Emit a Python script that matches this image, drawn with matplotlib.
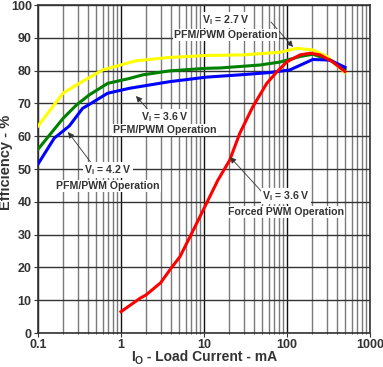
import matplotlib
matplotlib.use("Agg")
import matplotlib.pyplot as plt
from matplotlib.ticker import FixedLocator, NullFormatter

plt.rcParams['font.family'] = ['Liberation Sans', 'DejaVu Sans']

# V_I = 2.7 V PFM/PWM
x_27 = [0.1, 0.2, 0.29, 0.6, 1.52, 3.8, 10.6, 30, 82, 132, 205, 302, 500]
y_27 = [63.1, 73.1, 75.6, 80.2, 83.0, 84.0, 84.6, 84.8, 85.6, 86.8, 86.3, 84.3, 79.4]

# V_I = 3.6 V PFM/PWM
x_36 = [0.1, 0.2, 0.29, 0.415, 0.69, 1.26, 1.83, 3.8, 10.6, 15.6, 47, 82, 144, 205, 330, 500]
y_36 = [56.0, 65.4, 69.5, 72.6, 76.1, 77.6, 78.7, 79.9, 80.7, 80.8, 81.7, 82.6, 84.3, 85.0, 83.2, 80.4]

# V_I = 4.2 V PFM/PWM
x_42 = [0.1, 0.157, 0.238, 0.345, 0.435, 0.69, 1.26, 3.8, 10.6, 27, 62, 108, 132, 205, 330, 500]
y_42 = [51.5, 59.4, 63.1, 68.5, 70.0, 73.1, 74.6, 76.6, 78.0, 78.7, 79.4, 80.2, 81.2, 83.4, 83.2, 81.0]

# V_I = 3.6 V Forced PWM
x_pwm = [1, 1.7, 2, 3, 4, 5.14, 6.8, 8.95, 14.7, 20.4, 27, 38.8, 57, 76, 100, 144, 190, 250, 354, 500]
y_pwm = [6.5, 10.6, 11.6, 15.3, 19.7, 23.3, 29.4, 35.5, 46.6, 52.7, 60.9, 69.0, 76.1, 79.7, 82.7, 84.8, 85.3, 84.8, 82.7, 79.7]

x_ticks = [0.1, 1, 10, 100, 1000]
x_ticklabels = ["0.1", "1", "10", "100", "1000"]
y_ticks = [0, 10, 20, 30, 40, 50, 60, 70, 80, 90, 100]

W, H = 383, 367
fig = plt.figure(figsize=(W / 100, H / 100), dpi=100)
ax = fig.add_axes([38 / W, 34 / H, 332 / W, 328 / H])

ax.set_xscale('log')
ax.set_xlim(0.1, 1000)
ax.set_ylim(0, 100)

minor = [m * d for d in [0.1, 1, 10, 100] for m in range(2, 10)]
ax.xaxis.set_major_locator(FixedLocator(x_ticks))
ax.xaxis.set_minor_locator(FixedLocator(minor))
ax.xaxis.set_minor_formatter(NullFormatter())
ax.set_xticks(x_ticks)
ax.set_xticklabels(x_ticklabels)
ax.set_yticks(y_ticks)

ax.grid(True, which='major', axis='x', color='#111111', lw=1.0)
ax.grid(True, which='minor', axis='x', color='#7a7a7a', lw=1.0)
ax.grid(True, which='major', axis='y', color='#333333', lw=1.0)
ax.set_axisbelow(True)

for s in ax.spines.values():
    s.set_color('#333333')
    s.set_linewidth(1.2)

ax.tick_params(axis='both', which='major', labelsize=9, length=3, direction='out', colors='#333333', pad=1.5)
ax.tick_params(axis='x', which='minor', length=2, direction='inout', colors='#333333')
for lab in ax.get_xticklabels() + ax.get_yticklabels():
    lab.set_fontweight('bold')
    lab.set_color('#333333')

lw = 2.2
ax.plot(x_27, y_27, color='#FFFF00', lw=lw, zorder=3)
ax.plot(x_36, y_36, color='#008000', lw=lw, zorder=4)
ax.plot(x_42, y_42, color='#0000FF', lw=lw, zorder=5)
ax.plot(x_pwm, y_pwm, color='#FF0000', lw=lw, zorder=6)

# x label built from pieces: "I" + subscript "O" + rest
renderer = fig.canvas.get_renderer()
lk = dict(fontweight='bold', color='#333333', va='baseline', ha='left')
base_y = 1 - 361 / H
sub_y = 1 - 364.5 / H
parts = [('I', 10, base_y), ('O', 7.5, sub_y), (' - Load Current - mA', 10, base_y)]
texts = [fig.text(0, y, s, fontsize=fs, **lk) for s, fs, y in parts]
widths = [t.get_window_extent(renderer).width for t in texts]
x0 = 204 - sum(widths) / 2
for t, w in zip(texts, widths):
    t.set_x(x0 / W)
    x0 += w

fig.text(6 / W, 1 - 162 / H, 'Efficiency - %', fontsize=10.5, fontweight='bold',
         color='#333333', ha='center', va='center', rotation=90)

def px2data(px, py):
    xd = 10 ** ((px - 38) / 83.0 - 1)
    yd = (333 - py) / 3.28
    return xd, yd

tkw = dict(fontsize=7.6, fontweight='bold', color='#333333', ha='center', va='center', zorder=10)
box = dict(facecolor='white', edgecolor='none', pad=1.0)

def label(cx, cy1, cy2, text2, arrow_from, arrow_to):
    ax.annotate('', xy=px2data(*arrow_to), xytext=px2data(*arrow_from),
                arrowprops=dict(arrowstyle='-|>', color='#333333', lw=0.6,
                                mutation_scale=9, shrinkA=0, shrinkB=0), zorder=9)
    ax.text(*px2data(cx, cy1), r'V$_\mathregular{I}$ = ' + text2[0], bbox=box, **tkw)
    ax.text(*px2data(cx, cy2), text2[1], bbox=box, **tkw)

label(226, 20, 35, ('2.7 V', 'PFM/PWM Operation'), (271, 22), (293, 47))
label(165, 117, 130, ('3.6 V', 'PFM/PWM Operation'), (151, 113), (136, 96))
label(108, 170, 186, ('4.2 V', 'PFM/PWM Operation'), (92, 164), (68, 132))
label(286, 196, 212, ('3.6 V', 'Forced PWM Operation'), (262, 192), (230, 157))

fig.savefig('out.png', dpi=100)
